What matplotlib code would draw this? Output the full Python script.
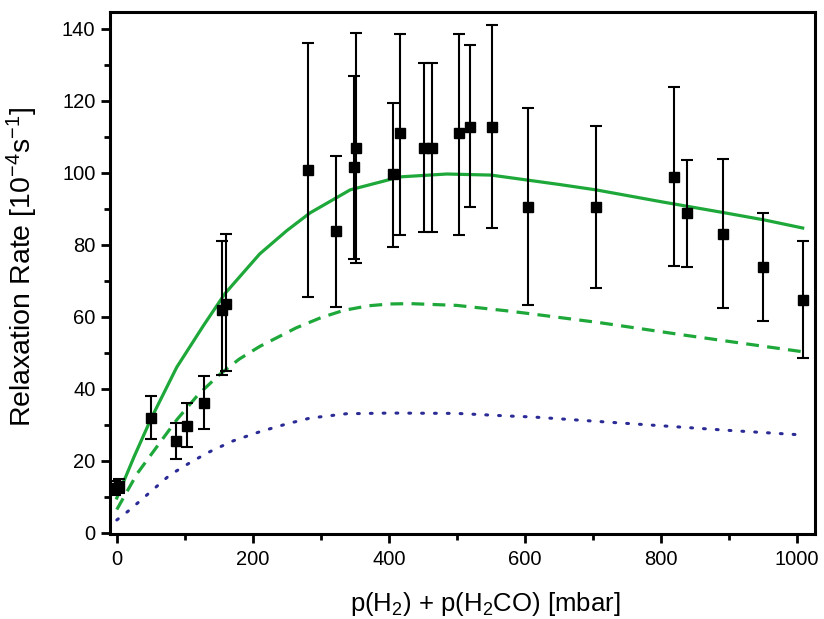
import numpy as np
import matplotlib
matplotlib.use('Agg')
from matplotlib import pyplot as plt

plt.rcParams['font.family'] = ['Liberation Sans', 'DejaVu Sans']
plt.rcParams['mathtext.default'] = 'regular'

# measured points
p = [-2, 3, 50, 87, 103, 128, 154, 160, 281, 322, 348, 352, 406, 416,
     451, 463, 503, 519, 551, 604, 704, 819, 838, 891, 950, 1008]
rate = [12.5, 13, 32, 25.6, 29.7, 36, 62, 63.6, 100.8, 84, 101.7, 107, 99.7, 111,
        107, 107, 111, 112.8, 112.8, 90.6, 90.6, 99, 88.9, 83, 74, 64.7]
err_lo = [2, 2, 6, 5, 5.7, 7, 18, 18.6, 35.2, 21.2, 25.7, 32, 20.3, 28.2,
          23.4, 23.4, 28.2, 22.4, 28.1, 27.3, 22.6, 24.8, 14.9, 20.5, 15, 16.1]
err_hi = [2, 2, 6, 5, 6.3, 7.5, 19, 19.4, 35.2, 20.7, 25.3, 32, 19.7, 27.6,
          23.5, 23.5, 27.6, 22.8, 28.2, 27.4, 22.4, 25, 14.7, 21, 14.9, 16.3]

# model curves
fit_x = [0, 25, 50, 88, 127, 159, 210, 250, 284, 343, 416, 485, 550, 604,
         650, 704, 800, 891, 950, 1008]
fit_y = [9.7, 21, 31.6, 46, 57.5, 66.5, 77.5, 84, 88.9, 95.3, 98.9, 99.7,
         99.4, 98, 96.8, 95.3, 92, 89, 87, 84.7]

dash_x = [0, 30, 63, 88, 120, 151, 180, 210, 264, 300, 333, 370, 401, 431, 500,
          573, 603, 710, 832, 956, 1009]
dash_y = [6.5, 16.5, 25, 31.4, 38.5, 44, 48.3, 51.8, 57, 59.8, 61.8, 63.1, 63.6,
          63.7, 63.2, 61.7, 61, 58.4, 55, 51.7, 50.3]

dot_x = [0, 19, 50, 78, 110, 137, 170, 210, 250, 284, 337, 401, 500, 573, 612,
         759, 906, 1009]
dot_y = [3.6, 6.4, 11.5, 16.1, 19.8, 22.6, 25.5, 28.1, 30.3, 31.9, 33.1, 33.3,
         33.2, 32.5, 32.2, 30.3, 28.4, 27.2]

fig = plt.figure(figsize=(8.24, 6.19), dpi=100)
ax = fig.add_axes([0.1335, 0.1373, 0.8555, 0.8433])

green = '#1ea83a'
ax.plot(fit_x, fit_y, color=green, lw=2.3, zorder=3)
ax.plot(dash_x, dash_y, color=green, lw=2.3, dashes=(4, 2.6), zorder=3)
ax.plot(dot_x, dot_y, color='#2b2b96', lw=2.2, dashes=(0.6, 3.6),
        dash_capstyle='round', zorder=3)

ax.errorbar(p, rate, yerr=[err_lo, err_hi], fmt='s', color='black', ms=7.5,
            ecolor='black', elinewidth=1.5, capsize=4.3, capthick=1.5, zorder=4)

ax.set_xlim(-10, 1026)
ax.set_ylim(-0.3, 144.7)
ax.set_xticks([0, 200, 400, 600, 800, 1000])
ax.set_xticks(np.arange(100, 1000, 200), minor=True)
ax.set_yticks(np.arange(0, 141, 20))
ax.set_yticks(np.arange(10, 140, 20), minor=True)

for s in ax.spines.values():
    s.set_linewidth(2.2)
ax.tick_params(which='major', direction='out', length=6.5, width=2, labelsize=14.5, pad=4)
ax.tick_params(which='minor', direction='out', length=4, width=2)
ax.tick_params(axis='x', which='major', pad=5)

ax.set_xlabel('p(H$_2$) + p(H$_2$CO) [mbar]', fontsize=18.5)
ax.set_ylabel('Relaxation Rate [10$^{-4}$s$^{-1}$]', fontsize=20.5)
ax.xaxis.set_label_coords(0.532, -0.108)
ax.yaxis.set_label_coords(-0.1, 0.511)

fig.savefig('out.png', dpi=100)
